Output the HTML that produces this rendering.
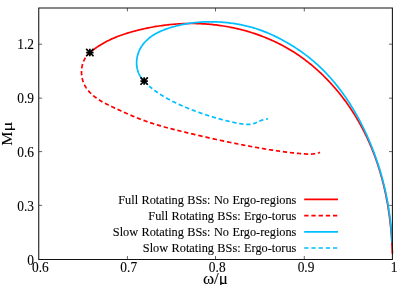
<!DOCTYPE html><html><head><meta charset="utf-8"><style>html,body{margin:0;padding:0;background:#fff}svg{display:block}text{font-family:"Liberation Serif",serif;fill:#000;stroke:#000;stroke-width:0.1px}</style></head><body>
<svg width="407" height="285" viewBox="0 0 407 285">
<rect width="407" height="285" fill="#fff"/>
<g fill="none" stroke-width="1.7" stroke-linecap="butt" stroke-linejoin="round">
<path d="M89.85 52.60 L91.02 51.63 L92.20 50.68 L93.39 49.76 L94.60 48.86 L95.82 47.98 L97.06 47.13 L98.30 46.30 L99.56 45.49 L100.83 44.71 L102.12 43.94 L103.41 43.20 L104.71 42.47 L106.03 41.77 L107.35 41.08 L108.69 40.42 L110.03 39.77 L111.38 39.14 L112.75 38.53 L114.12 37.94 L115.49 37.37 L116.88 36.81 L118.27 36.26 L119.67 35.73 L121.08 35.22 L122.49 34.72 L123.91 34.24 L125.34 33.77 L126.77 33.32 L128.20 32.87 L129.64 32.44 L131.09 32.02 L132.53 31.62 L133.99 31.22 L135.44 30.84 L136.90 30.46 L138.36 30.10 L139.82 29.75 L141.28 29.40 L142.75 29.06 L144.22 28.74 L145.69 28.42 L147.16 28.11 L148.63 27.81 L150.11 27.52 L151.58 27.24 L153.06 26.97 L154.54 26.71 L156.02 26.46 L157.51 26.22 L158.99 25.99 L160.47 25.77 L161.96 25.56 L163.45 25.36 L164.94 25.17 L166.43 24.98 L167.92 24.81 L169.41 24.65 L170.90 24.50 L172.40 24.36 L173.89 24.23 L175.39 24.11 L176.89 24.00 L178.39 23.90 L179.89 23.81 L181.38 23.73 L182.89 23.67 L184.39 23.61 L185.89 23.56 L187.39 23.53 L188.89 23.50 L190.40 23.49 L191.90 23.49 L193.40 23.50 L194.91 23.52 L196.41 23.55 L197.92 23.59 L199.42 23.64 L200.93 23.71 L202.43 23.78 L203.94 23.87 L205.44 23.97 L206.94 24.07 L208.45 24.19 L209.95 24.32 L211.45 24.46 L212.95 24.62 L214.45 24.78 L215.94 24.95 L217.44 25.14 L218.93 25.34 L220.43 25.54 L221.92 25.76 L223.41 25.99 L224.90 26.23 L226.38 26.49 L227.87 26.75 L229.35 27.02 L230.83 27.31 L232.30 27.61 L233.78 27.91 L235.25 28.23 L236.72 28.56 L238.19 28.91 L239.65 29.26 L241.11 29.62 L242.57 30.00 L244.02 30.38 L245.47 30.78 L246.92 31.19 L248.36 31.61 L249.80 32.04 L251.24 32.48 L252.67 32.94 L254.10 33.40 L255.53 33.88 L256.95 34.36 L258.36 34.86 L259.78 35.37 L261.18 35.89 L262.59 36.43 L263.98 36.97 L265.38 37.52 L266.76 38.09 L268.15 38.67 L269.53 39.26 L270.90 39.86 L272.27 40.47 L273.63 41.09 L274.98 41.72 L276.33 42.37 L277.68 43.03 L279.02 43.69 L280.35 44.37 L281.68 45.06 L283.00 45.76 L284.31 46.48 L285.62 47.20 L286.92 47.94 L288.22 48.69 L289.50 49.44 L290.78 50.21 L292.06 51.00 L293.33 51.79 L294.59 52.59 L295.84 53.41 L297.09 54.23 L298.32 55.07 L299.56 55.92 L300.78 56.77 L302.00 57.64 L303.21 58.52 L304.41 59.41 L305.61 60.31 L306.80 61.22 L307.98 62.14 L309.15 63.07 L310.32 64.01 L311.48 64.96 L312.63 65.92 L313.78 66.89 L314.91 67.86 L316.04 68.85 L317.16 69.85 L318.28 70.85 L319.38 71.87 L320.48 72.89 L321.57 73.92 L322.66 74.96 L323.73 76.01 L324.80 77.07 L325.86 78.14 L326.91 79.21 L327.96 80.30 L328.99 81.39 L330.02 82.49 L331.04 83.60 L332.05 84.71 L333.06 85.83 L334.05 86.96 L335.04 88.10 L336.02 89.25 L336.99 90.40 L337.95 91.56 L338.91 92.73 L339.86 93.90 L340.79 95.09 L341.72 96.27 L342.65 97.47 L343.56 98.67 L344.46 99.88 L345.36 101.10 L346.25 102.32 L347.13 103.54 L348.00 104.78 L348.86 106.02 L349.71 107.26 L350.56 108.52 L351.40 109.77 L352.22 111.04 L353.04 112.31 L353.85 113.58 L354.65 114.86 L355.44 116.14 L356.23 117.43 L357.00 118.73 L357.77 120.03 L358.52 121.34 L359.27 122.65 L360.01 123.96 L360.74 125.28 L361.46 126.60 L362.17 127.93 L362.87 129.26 L363.56 130.60 L364.25 131.94 L364.92 133.28 L365.58 134.63 L366.24 135.99 L366.89 137.34 L367.52 138.70 L368.15 140.07 L368.77 141.43 L369.38 142.80 L369.98 144.18 L370.57 145.56 L371.15 146.94 L371.73 148.32 L372.29 149.71 L372.85 151.10 L373.39 152.49 L373.93 153.89 L374.46 155.29 L374.98 156.70 L375.49 158.10 L376.00 159.51 L376.49 160.93 L376.98 162.34 L377.46 163.76 L377.93 165.18 L378.39 166.61 L378.84 168.03 L379.29 169.46 L379.72 170.90 L380.15 172.33 L380.57 173.77 L380.98 175.21 L381.39 176.65 L381.78 178.09 L382.17 179.54 L382.55 180.99 L382.92 182.44 L383.29 183.90 L383.65 185.35 L383.99 186.81 L384.34 188.27 L384.67 189.73 L385.00 191.20 L385.31 192.66 L385.62 194.13 L385.93 195.60 L386.22 197.07 L386.51 198.54 L386.79 200.02 L387.07 201.49 L387.34 202.97 L387.59 204.45 L387.85 205.93 L388.09 207.41 L388.33 208.90 L388.56 210.38 L388.79 211.87 L389.00 213.35 L389.21 214.84 L389.42 216.33 L389.61 217.82 L389.80 219.32 L389.99 220.81 L390.16 222.30 L390.33 223.80 L390.50 225.29 L390.65 226.79 L390.80 228.28 L390.95 229.78 L391.08 231.28 L391.21 232.78 L391.34 234.28 L391.46 235.78 L391.57 237.28 L391.67 238.78 L391.77 240.28 L391.87 241.78 L391.95 243.28 L392.04 244.79 L392.11 246.29 L392.18 247.79 L392.24 249.29 L392.30 250.80 L392.35 252.30 L392.40 253.80" stroke="#ff0000"/>
<path d="M89.80 52.65 L89.07 53.31 L88.38 53.99 L87.73 54.70 L87.12 55.41 M85.51 57.65 L85.43 57.76 L84.94 58.58 L84.49 59.41 L84.06 60.26 L83.67 61.13 L83.53 61.46 M82.62 64.06 L82.44 64.72 L82.21 65.64 L82.01 66.57 L81.85 67.51 L81.74 68.27 M81.52 71.01 L81.51 71.32 L81.50 72.27 L81.53 73.23 L81.58 74.19 L81.67 75.14 L81.69 75.31 M82.13 78.03 L82.32 78.91 L82.56 79.84 L82.83 80.75 L83.13 81.66 L83.32 82.16 M84.40 84.69 L84.63 85.15 L85.08 85.98 L85.55 86.80 L86.06 87.61 L86.58 88.39 L86.59 88.40 M88.25 90.58 L88.32 90.66 L88.94 91.38 L89.58 92.09 L90.24 92.78 L90.92 93.46 L91.17 93.70 M93.21 95.53 L93.79 96.02 L94.55 96.62 L95.31 97.21 L96.08 97.78 L96.59 98.15 M98.86 99.68 L99.26 99.94 L100.07 100.45 L100.88 100.94 L101.70 101.43 L102.52 101.90 M104.92 103.21 L105.03 103.27 L105.88 103.71 L106.73 104.14 L107.58 104.57 L108.43 105.00 L108.74 105.15 M111.21 106.34 L111.87 106.65 L112.73 107.06 L113.59 107.46 L114.46 107.87 L115.08 108.16 M117.56 109.32 L117.92 109.49 L118.79 109.89 L119.66 110.29 L120.53 110.69 L121.40 111.09 L121.45 111.11 M123.94 112.24 L124.01 112.27 L124.88 112.67 L125.76 113.06 L126.63 113.45 L127.51 113.83 L127.88 113.99 M130.40 115.09 L131.03 115.35 L131.91 115.73 L132.79 116.10 L133.67 116.47 L134.37 116.76 M136.92 117.80 L137.22 117.92 L138.10 118.27 L138.99 118.62 L139.89 118.97 L140.78 119.31 L140.93 119.37 M143.51 120.34 L144.36 120.65 L145.26 120.98 L146.16 121.30 L147.06 121.61 L147.56 121.79 M150.17 122.67 L150.68 122.84 L151.58 123.13 L152.49 123.43 L153.40 123.72 L154.27 123.99 M156.90 124.80 L157.05 124.84 L157.96 125.11 L158.88 125.38 L159.79 125.65 L160.71 125.91 L161.04 126.01 M163.69 126.75 L164.39 126.95 L165.31 127.20 L166.23 127.45 L167.15 127.70 L167.84 127.88 M170.50 128.58 L170.84 128.67 L171.77 128.91 L172.69 129.15 L173.62 129.39 L174.55 129.62 L174.68 129.65 M177.35 130.33 L178.25 130.55 L179.18 130.78 L180.11 131.01 L181.03 131.24 L181.53 131.36 M184.20 132.02 L184.75 132.15 L185.68 132.38 L186.60 132.61 L187.53 132.83 L188.38 133.04 M191.06 133.68 L191.25 133.73 L192.18 133.95 L193.11 134.17 L194.04 134.39 L194.97 134.61 L195.42 134.72 M198.21 135.37 L198.69 135.48 L199.62 135.70 L200.55 135.92 L201.48 136.13 L202.41 136.35 L202.59 136.39 M205.39 137.03 L206.14 137.20 L207.07 137.41 L208.01 137.62 L208.94 137.83 L209.78 138.02 M212.58 138.65 L212.67 138.67 L213.60 138.88 L214.54 139.08 L215.47 139.29 L216.40 139.49 L216.97 139.61 M219.78 140.22 L220.14 140.30 L221.07 140.50 L222.01 140.70 L222.94 140.90 L223.88 141.10 L224.18 141.16 M226.99 141.75 L227.62 141.88 L228.55 142.08 L229.49 142.27 L230.43 142.47 L231.36 142.66 L231.39 142.66 M234.20 143.24 L235.11 143.42 L236.04 143.61 L236.98 143.79 L237.92 143.98 L238.43 144.08 M241.13 144.61 L241.67 144.72 L242.61 144.90 L243.54 145.08 L244.48 145.26 L245.35 145.43 M248.05 145.94 L248.24 145.97 L249.17 146.15 L250.11 146.32 L251.05 146.50 L251.99 146.67 L252.28 146.72 M254.99 147.22 L255.75 147.35 L256.69 147.52 L257.63 147.69 L258.57 147.85 L259.22 147.97 M261.93 148.44 L262.34 148.51 L263.28 148.67 L264.22 148.82 L265.16 148.98 L266.10 149.14 L266.17 149.15 M268.88 149.59 L268.93 149.60 L269.88 149.75 L270.82 149.90 L271.76 150.04 L272.71 150.19 L273.13 150.25 M275.85 150.66 L276.49 150.76 L277.44 150.89 L278.38 151.03 L279.33 151.16 L280.11 151.27 M282.83 151.64 L283.12 151.68 L284.07 151.81 L285.02 151.93 L285.97 152.05 L286.92 152.17 L287.10 152.19 M289.83 152.52 L290.72 152.63 L291.67 152.73 L292.62 152.84 L293.58 152.94 L294.10 153.00 M296.84 153.27 L297.39 153.33 L298.34 153.42 L299.30 153.50 L300.25 153.58 L301.12 153.66 M303.86 153.87 L304.07 153.88 L305.02 153.94 L305.97 154.00 L306.93 154.04 L307.88 154.08 L308.16 154.08 M310.91 154.07 L311.66 154.04 L312.61 153.98 L313.54 153.89 L314.48 153.78 L315.19 153.67 M317.87 153.09 L318.18 153.01 L319.09 152.72 L320.00 152.40" stroke="#ff0000"/>
<path d="M144.10 81.10 L143.03 79.97 L142.04 78.81 L141.14 77.60 L140.33 76.37 L139.60 75.10 L138.95 73.80 L138.39 72.48 L137.90 71.14 L137.50 69.78 L137.17 68.40 L136.91 67.02 L136.74 65.62 L136.63 64.21 L136.60 62.81 L136.64 61.40 L136.74 60.00 L136.92 58.60 L137.16 57.21 L137.47 55.83 L137.84 54.47 L138.27 53.12 L138.76 51.80 L139.32 50.50 L139.93 49.23 L140.60 47.99 L141.32 46.78 L142.10 45.61 L142.93 44.47 L143.80 43.36 L144.73 42.29 L145.69 41.26 L146.70 40.26 L147.75 39.30 L148.83 38.37 L149.95 37.48 L151.10 36.62 L152.27 35.80 L153.48 35.02 L154.70 34.27 L155.95 33.56 L157.22 32.88 L158.51 32.23 L159.82 31.61 L161.14 31.02 L162.48 30.46 L163.82 29.92 L165.18 29.41 L166.55 28.92 L167.92 28.45 L169.30 28.00 L170.68 27.56 L172.07 27.14 L173.46 26.74 L174.85 26.36 L176.25 25.99 L177.65 25.64 L179.05 25.30 L180.45 24.98 L181.86 24.68 L183.26 24.39 L184.67 24.12 L186.09 23.86 L187.50 23.62 L188.92 23.40 L190.34 23.19 L191.76 22.99 L193.18 22.81 L194.60 22.65 L196.03 22.50 L197.45 22.36 L198.88 22.24 L200.31 22.13 L201.74 22.04 L203.17 21.96 L204.60 21.90 L206.03 21.85 L207.46 21.82 L208.90 21.79 L210.33 21.79 L211.76 21.79 L213.20 21.81 L214.63 21.84 L216.07 21.89 L217.50 21.95 L218.94 22.02 L220.37 22.10 L221.80 22.20 L223.24 22.31 L224.67 22.44 L226.10 22.57 L227.53 22.72 L228.96 22.88 L230.39 23.06 L231.81 23.25 L233.23 23.45 L234.66 23.67 L236.08 23.89 L237.49 24.14 L238.91 24.39 L240.32 24.66 L241.73 24.94 L243.14 25.24 L244.54 25.55 L245.94 25.87 L247.33 26.21 L248.72 26.56 L250.11 26.92 L251.50 27.30 L252.88 27.69 L254.25 28.10 L255.62 28.52 L256.99 28.95 L258.35 29.40 L259.70 29.86 L261.05 30.34 L262.40 30.83 L263.74 31.34 L265.07 31.86 L266.39 32.39 L267.72 32.94 L269.03 33.50 L270.34 34.07 L271.64 34.66 L272.94 35.26 L274.24 35.87 L275.53 36.49 L276.81 37.12 L278.09 37.77 L279.37 38.43 L280.64 39.10 L281.91 39.77 L283.17 40.46 L284.43 41.16 L285.68 41.87 L286.93 42.58 L288.18 43.31 L289.43 44.04 L290.66 44.78 L291.90 45.54 L293.13 46.30 L294.35 47.07 L295.57 47.85 L296.78 48.64 L297.98 49.44 L299.18 50.25 L300.37 51.07 L301.55 51.90 L302.72 52.74 L303.89 53.58 L305.05 54.44 L306.20 55.31 L307.34 56.19 L308.47 57.07 L309.60 57.97 L310.71 58.87 L311.82 59.79 L312.92 60.71 L314.01 61.64 L315.09 62.58 L316.16 63.53 L317.22 64.49 L318.28 65.46 L319.32 66.43 L320.36 67.42 L321.39 68.41 L322.41 69.41 L323.42 70.42 L324.43 71.44 L325.42 72.46 L326.41 73.50 L327.39 74.54 L328.36 75.59 L329.33 76.64 L330.28 77.71 L331.23 78.78 L332.17 79.86 L333.10 80.94 L334.02 82.03 L334.94 83.13 L335.84 84.24 L336.74 85.36 L337.63 86.48 L338.51 87.60 L339.39 88.74 L340.26 89.88 L341.11 91.02 L341.97 92.18 L342.81 93.33 L343.64 94.50 L344.47 95.67 L345.29 96.85 L346.10 98.03 L346.91 99.22 L347.71 100.41 L348.50 101.61 L349.28 102.82 L350.05 104.03 L350.82 105.24 L351.58 106.46 L352.33 107.69 L353.07 108.92 L353.81 110.15 L354.54 111.39 L355.26 112.64 L355.98 113.88 L356.69 115.14 L357.39 116.40 L358.08 117.66 L358.76 118.92 L359.44 120.19 L360.11 121.47 L360.78 122.75 L361.44 124.03 L362.09 125.31 L362.73 126.60 L363.36 127.89 L363.99 129.19 L364.61 130.49 L365.23 131.79 L365.84 133.10 L366.44 134.41 L367.03 135.72 L367.62 137.03 L368.20 138.35 L368.77 139.67 L369.34 140.99 L369.90 142.31 L370.45 143.64 L371.00 144.97 L371.54 146.30 L372.07 147.64 L372.59 148.98 L373.11 150.32 L373.63 151.66 L374.13 153.00 L374.63 154.35 L375.12 155.70 L375.60 157.05 L376.08 158.40 L376.55 159.76 L377.01 161.12 L377.47 162.48 L377.92 163.84 L378.36 165.21 L378.80 166.57 L379.23 167.94 L379.65 169.31 L380.07 170.69 L380.47 172.06 L380.88 173.44 L381.27 174.82 L381.66 176.20 L382.04 177.58 L382.41 178.96 L382.78 180.35 L383.14 181.74 L383.49 183.13 L383.84 184.52 L384.18 185.91 L384.51 187.31 L384.83 188.70 L385.15 190.10 L385.46 191.50 L385.77 192.90 L386.06 194.31 L386.35 195.71 L386.64 197.12 L386.91 198.52 L387.18 199.93 L387.45 201.34 L387.70 202.75 L387.95 204.17 L388.19 205.58 L388.42 207.00 L388.65 208.41 L388.87 209.83 L389.09 211.25 L389.29 212.67 L389.49 214.09 L389.68 215.51 L389.87 216.93 L390.05 218.36 L390.22 219.78 L390.38 221.21 L390.54 222.64 L390.69 224.07 L390.83 225.49 L390.97 226.92 L391.10 228.35 L391.22 229.79 L391.33 231.22 L391.44 232.65 L391.54 234.08 L391.64 235.52 L391.72 236.95 L391.80 238.39 L391.87 239.83 L391.94 241.26 L392.00 242.70" stroke="#00bfff"/>
<path d="M144.10 81.10 L144.41 81.44 L144.72 81.77 L145.04 82.10 L145.35 82.43 L145.67 82.76 L145.99 83.08 L146.32 83.40 L146.64 83.72 L146.97 84.04 L147.11 84.17 M149.10 86.01 L149.30 86.20 L149.64 86.49 L149.99 86.79 L150.33 87.09 L150.67 87.38 L151.02 87.67 L151.37 87.96 L151.72 88.25 L152.07 88.53 L152.27 88.69 M154.37 90.31 L154.58 90.47 L154.94 90.74 L155.31 91.01 L155.67 91.27 L156.04 91.54 L156.41 91.80 L156.78 92.06 L157.15 92.32 L157.53 92.57 L157.75 92.73 M159.99 94.21 L160.17 94.32 L160.55 94.57 L160.94 94.81 L161.32 95.05 L161.71 95.29 L162.09 95.53 L162.48 95.76 L162.87 96.00 L163.26 96.23 L163.65 96.46 L163.67 96.47 M166.06 97.85 L166.40 98.05 L166.80 98.27 L167.20 98.49 L167.59 98.71 L167.99 98.92 L168.39 99.14 L168.79 99.35 L169.19 99.57 L169.59 99.78 L169.86 99.92 M172.32 101.19 L172.42 101.24 L172.82 101.44 L173.23 101.65 L173.64 101.85 L174.04 102.05 L174.45 102.25 L174.86 102.45 L175.27 102.65 L175.68 102.85 L176.08 103.04 L176.19 103.10 M178.70 104.27 L178.96 104.39 L179.37 104.58 L179.79 104.77 L180.20 104.96 L180.61 105.14 L181.03 105.33 L181.44 105.51 L181.86 105.70 L182.27 105.88 L182.64 106.04 M185.18 107.13 L185.19 107.13 L185.61 107.31 L186.03 107.48 L186.45 107.66 L186.87 107.83 L187.29 108.00 L187.71 108.17 L188.13 108.35 L188.55 108.52 L188.97 108.68 L189.18 108.77 M191.76 109.78 L191.93 109.85 L192.35 110.01 L192.78 110.17 L193.20 110.33 L193.62 110.50 L194.05 110.66 L194.47 110.82 L194.90 110.97 L195.33 111.13 L195.75 111.29 L195.80 111.31 M198.40 112.25 L198.74 112.37 L199.17 112.52 L199.59 112.67 L200.02 112.82 L200.45 112.97 L200.88 113.12 L201.31 113.27 L201.74 113.42 L202.16 113.57 L202.48 113.68 M205.10 114.56 L205.17 114.58 L205.60 114.72 L206.03 114.87 L206.47 115.01 L206.90 115.15 L207.33 115.29 L207.76 115.43 L208.19 115.57 L208.62 115.70 L209.05 115.84 L209.21 115.89 M211.85 116.71 L212.08 116.78 L212.52 116.92 L212.95 117.05 L213.39 117.18 L213.82 117.31 L214.25 117.44 L214.69 117.57 L215.12 117.69 L215.56 117.82 L215.97 117.94 M218.62 118.69 L219.05 118.81 L219.49 118.93 L219.92 119.05 L220.36 119.17 L220.80 119.29 L221.24 119.41 L221.67 119.52 L222.11 119.64 L222.55 119.76 L222.77 119.81 M225.43 120.49 L225.63 120.54 L226.07 120.65 L226.51 120.76 L226.95 120.87 L227.39 120.97 L227.83 121.08 L228.28 121.19 L228.72 121.29 L229.16 121.39 L229.60 121.50 L229.61 121.50 M232.29 122.10 L232.71 122.19 L233.15 122.29 L233.60 122.39 L234.04 122.48 L234.49 122.57 L234.93 122.67 L235.38 122.76 L235.82 122.85 L236.27 122.94 L236.50 122.99 M239.20 123.50 L239.40 123.53 L239.85 123.61 L240.30 123.68 L240.75 123.76 L241.20 123.83 L241.65 123.89 L242.10 123.96 L242.56 124.02 L243.01 124.08 L243.46 124.13 M246.19 124.38 L246.63 124.40 L247.09 124.42 L247.54 124.43 L247.99 124.43 L248.44 124.42 L248.89 124.41 L249.33 124.39 L249.78 124.36 L250.22 124.31 L250.49 124.28 M253.18 123.74 L253.27 123.71 L253.69 123.58 L254.11 123.44 L254.54 123.29 L254.96 123.14 L255.38 122.98 L255.79 122.81 L256.21 122.64 L256.62 122.46 L256.97 122.31 M259.34 121.25 L259.53 121.17 L259.94 120.98 L260.36 120.80 L260.78 120.63 L261.19 120.46 L261.61 120.29 L262.03 120.13 L262.46 119.98 L262.88 119.83 L263.31 119.70 L263.34 119.69 M266.03 119.10 L266.37 119.05 L266.82 119.02 L267.28 118.99 L267.74 118.99 L268.20 119.00" stroke="#00bfff"/>
</g>
<g stroke="#000" fill="none">
<path d="M38.75 8.00 H392.40 V259.40 H38.75 Z" stroke-width="1.05" stroke="#111"/>
<path d="M38.75 205.40 h3.4 M392.40 205.40 h-3.4 M38.75 151.60 h3.4 M392.40 151.60 h-3.4 M38.75 98.15 h3.4 M392.40 98.15 h-3.4 M38.75 44.20 h3.4 M392.40 44.20 h-3.4 M127.40 259.40 v-3.4 M127.40 8.00 v3.4 M215.50 259.40 v-3.4 M215.50 8.00 v3.4 M304.30 259.40 v-3.4 M304.30 8.00 v3.4" stroke-width="0.7" stroke="#222"/>
</g>
<g style="filter:grayscale(1)">
<g font-size="13.4">
<text transform="translate(34 264.60) scale(1 1.04)" text-anchor="end">0</text>
<text transform="translate(34 210.80) scale(1 1.04)" text-anchor="end">0.3</text>
<text transform="translate(34 156.90) scale(1 1.04)" text-anchor="end">0.6</text>
<text transform="translate(34 103.00) scale(1 1.04)" text-anchor="end">0.9</text>
<text transform="translate(34 49.00) scale(1 1.04)" text-anchor="end">1.2</text>
<text transform="translate(40.30 272.30) scale(1 1.04)" text-anchor="middle">0.6</text>
<text transform="translate(128.70 272.30) scale(1 1.04)" text-anchor="middle">0.7</text>
<text transform="translate(217.20 272.30) scale(1 1.04)" text-anchor="middle">0.8</text>
<text transform="translate(306.00 272.30) scale(1 1.04)" text-anchor="middle">0.9</text>
<text transform="translate(394.00 272.30) scale(1 1.04)" text-anchor="middle">1</text>
</g>
<text transform="translate(215.4 283.8) scale(1.06 1)" font-size="16" text-anchor="middle">ω/μ</text>
<text transform="translate(12.4 145.7) rotate(-90) scale(1.12 1)" font-size="14.2">M</text>
<text transform="translate(12.4 131.6) rotate(-90) scale(1.3 1)" font-size="14.2">μ</text>
<text x="296.4" y="203.70" font-size="12.3" text-anchor="end" word-spacing="0.35">Full Rotating BSs: No Ergo-regions</text>
<text x="296.4" y="219.90" font-size="12.3" text-anchor="end" word-spacing="0.35">Full Rotating BSs: Ergo-torus</text>
<text x="296.4" y="236.10" font-size="12.3" text-anchor="end" word-spacing="0.35">Slow Rotating BSs: No Ergo-regions</text>
<text x="296.4" y="252.30" font-size="12.3" text-anchor="end" word-spacing="0.35">Slow Rotating BSs: Ergo-torus</text>
</g>
<path d="M304.2 199.40 H338" stroke="#ff0000" stroke-width="1.7" fill="none"/>
<path d="M304.2 215.60 H338" stroke="#ff0000" stroke-width="1.7" fill="none" stroke-dasharray="4.3 2.9"/>
<path d="M304.2 231.80 H338" stroke="#00bfff" stroke-width="1.7" fill="none"/>
<path d="M304.2 248.00 H338" stroke="#00bfff" stroke-width="1.7" fill="none" stroke-dasharray="4.3 2.9"/>
<path d="M86.15 52.55 h7.40 M89.85 48.85 v7.40 M86.15 48.85 l7.40 7.40 M86.15 56.25 l7.40 -7.40 M140.45 81.05 h7.40 M144.15 77.35 v7.40 M140.45 77.35 l7.40 7.40 M140.45 84.75 l7.40 -7.40" stroke="#000" stroke-width="1.75" fill="none"/>
</svg></body></html>
